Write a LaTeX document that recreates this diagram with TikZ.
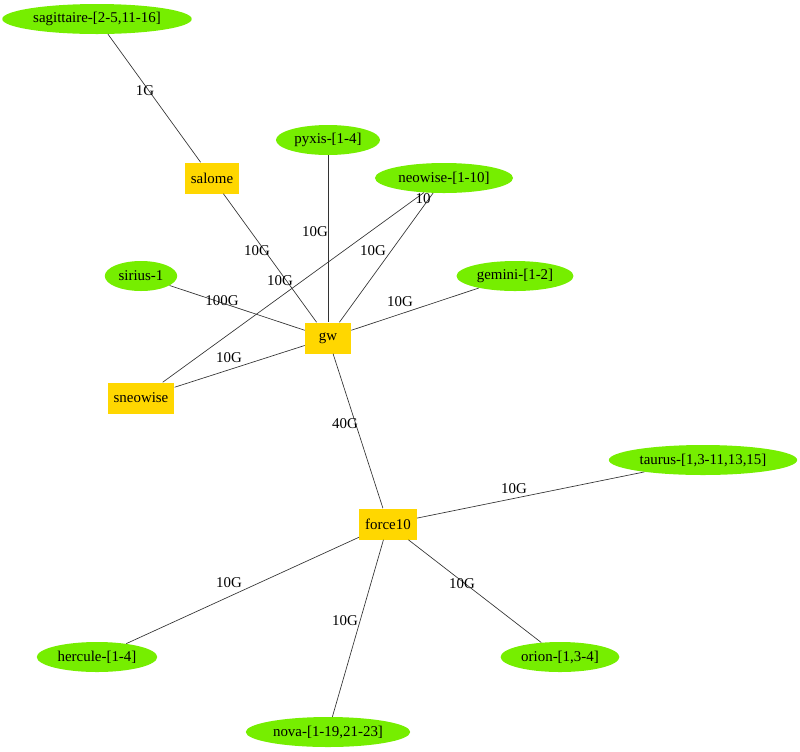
\documentclass[tikz,border=0pt]{standalone}
\usepackage{fontspec}
\setmainfont{Liberation Serif}
\usetikzlibrary{shapes.geometric}

\definecolor{hostgreen}{RGB}{118,238,0}
\definecolor{switchgold}{RGB}{255,215,0}

\begin{document}
\begin{tikzpicture}[x=0.75pt, y=-0.75pt,
  font=\fontsize{11.2}{13}\selectfont,
  host/.style={ellipse, fill=hostgreen, inner xsep=2.4pt, inner ysep=1pt, minimum height=22.5pt},
  switch/.style={rectangle, fill=switchgold, inner xsep=4.5pt, minimum width=34.5pt, minimum height=23.25pt},
  link/.style={draw=black!80, line width=0.5pt},
  speed/.style={inner sep=1pt}]

  \useasboundingbox (0,0) rectangle (800,751);

  % --- 1. commutateurs ---
  \node[switch] (salome)   at (212,178) {salome};
  \node[switch] (gw)       at (328,338) {gw};
  \node[switch] (sneowise) at (141,398) {sneowise};
  \node[switch] (force10)  at (388,524) {force10};

  % --- 2. grappes de machines ---
  \node[host] (sagittaire) at (97,19)   {sagittaire-[2-5,11-16]};
  \node[host] (pyxis)      at (328,140) {pyxis-[1-4]};
  \node[host] (neowise)    at (444,178) {neowise-[1-10]};
  \node[host] (sirius)     at (141,276) {sirius-1};
  \node[host] (gemini)     at (515,276) {gemini-[1-2]};
  \node[host] (taurus)     at (703,460) {taurus-[1,3-11,13,15]};
  \node[host] (hercule)    at (97,657)  {hercule-[1-4]};
  \node[host] (orion)      at (560,657) {orion-[1,3-4]};
  \node[host] (nova)       at (328,732) {nova-[1-19,21-23]};

  % --- 3. liens ---
  \draw[link] (sagittaire) -- (salome);
  \draw[link] (salome) -- (gw);
  \draw[link] (pyxis) -- (gw);
  \draw[link] (neowise) -- (gw);
  \draw[link] (neowise) -- (sneowise);
  \draw[link] (sirius) -- (gw);
  \draw[link] (gemini) -- (gw);
  \draw[link] (sneowise) -- (gw);
  \draw[link] (gw) -- (force10);
  \draw[link] (force10) -- (taurus);
  \draw[link] (force10) -- (hercule);
  \draw[link] (force10) -- (nova);
  \draw[link] (force10) -- (orion);

  % --- 4. debits ---
  \node[speed] (s1)  at (145,91)  {1G};
  \node[speed] (s2)  at (257,251) {10G};
  \node[speed] (s3)  at (315,232) {10G};
  \node[speed] (s4)  at (373,251) {10G};
  \node[speed] (s5)  at (280,281) {10G};
  \node[speed] (s6)  at (423,199) {10};
  \node[speed] (s7)  at (222,301) {100G};
  \node[speed] (s8)  at (400,302) {10G};
  \node[speed] (s9)  at (229,358) {10G};
  \node[speed] (s10) at (345,424) {40G};
  \node[speed] (s11) at (514,489) {10G};
  \node[speed] (s12) at (229,583) {10G};
  \node[speed] (s13) at (345,621) {10G};
  \node[speed] (s14) at (462,584) {10G};

\end{tikzpicture}
\end{document}
